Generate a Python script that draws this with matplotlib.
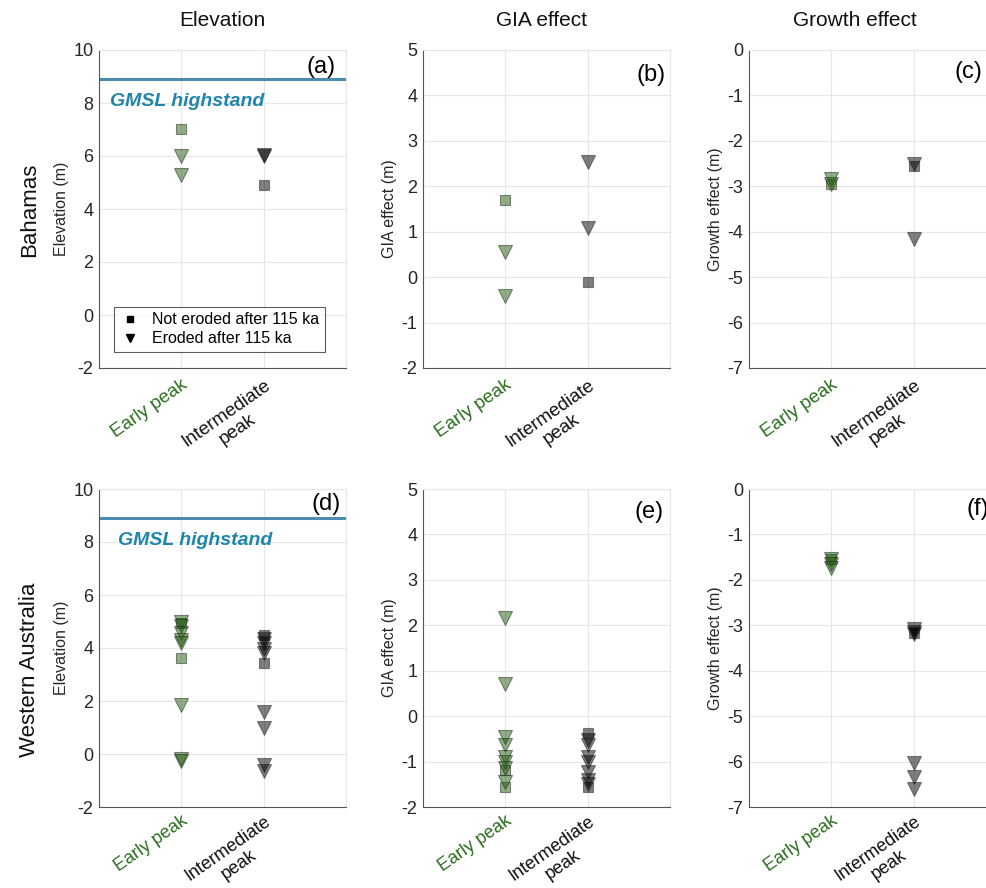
import numpy as np
import matplotlib
matplotlib.use("Agg")
import matplotlib.pyplot as plt
from matplotlib.lines import Line2D

plt.rcParams['font.family'] = ['Liberation Sans', 'DejaVu Sans']
plt.rcParams['axes.unicode_minus'] = False

# categories on the x axis
cats = ["Early peak", "Intermediate\npeak"]
cat_x = [1, 2]
cat_colors = ["#2a6e1e", "#111111"]

# marker fill per category (green for early, black for intermediate), drawn translucent
fills = ["#1f5f0a", "#000000"]

# Bahamas ------------------------------------------------------------
bah_elev_sq = [[7.0], [4.9]]
bah_elev_tri = [[6.0, 5.3], [6.05, 6.0]]
bah_gia_sq = [[1.7], [-0.1]]
bah_gia_tri = [[0.55, -0.42], [2.53, 1.09]]
bah_grow_sq = [[-2.95], [-2.55]]
bah_grow_tri = [[-2.85, -2.95], [-2.5, -4.17]]

# Western Australia --------------------------------------------------
wa_elev_sq = [[4.95, 3.62], [4.5, 3.44]]
wa_elev_tri = [[4.98, 4.83, 4.58, 4.32, 4.2, 1.86, -0.2, -0.27],
               [4.35, 4.2, 3.95, 3.8, 1.6, 0.98, -0.42, -0.66]]
wa_gia_sq = [[-1.18, -1.55], [-0.38, -1.55]]
wa_gia_tri = [[2.15, 0.71, -0.45, -0.63, -0.9, -1.0, -1.15, -1.45],
              [-0.52, -0.63, -0.9, -1.0, -1.22, -1.4, -1.5]]
wa_grow_sq = [[-1.55], [-3.17]]
wa_grow_tri = [[-1.55, -1.66, -1.73], [-3.08, -3.15, -3.2, -6.03, -6.33, -6.6]]

gmsl = 8.9

panels = [
    [(bah_elev_sq, bah_elev_tri, "Elevation (m)", (-2, 10), "(a)"),
     (bah_gia_sq, bah_gia_tri, "GIA effect (m)", (-2, 5), "(b)"),
     (bah_grow_sq, bah_grow_tri, "Growth effect (m)", (-7, 0), "(c)")],
    [(wa_elev_sq, wa_elev_tri, "Elevation (m)", (-2, 10), "(d)"),
     (wa_gia_sq, wa_gia_tri, "GIA effect (m)", (-2, 5), "(e)"),
     (wa_grow_sq, wa_grow_tri, "Growth effect (m)", (-7, 0), "(f)")],
]

lefts = [99 / 986, 423 / 986, 749 / 986]
bottoms = [1 - 368 / 888, 1 - 807 / 888]
w = 247 / 986
h = 318 / 888
label_pos = [[(0.84, 0.947), (0.866, 0.92), (0.834, 0.93)],
             [(0.862, 0.953), (0.858, 0.927), (0.88, 0.937)]]

fig = plt.figure(figsize=(9.86, 8.88), dpi=100)

for r, row in enumerate(panels):
    for c, (sq, tri, ylab, ylim, tag) in enumerate(row):
        ax = fig.add_axes([lefts[c], bottoms[r], w, h])
        for i in range(2):
            ax.plot([cat_x[i]] * len(sq[i]), sq[i], ls="none", marker="s", ms=7.5,
                    mfc=fills[i], mec="#222222", mew=0.8, alpha=0.5)
            ax.plot([cat_x[i]] * len(tri[i]), tri[i], ls="none", marker="v", ms=9.5,
                    mfc=fills[i], mec="#222222", mew=0.8, alpha=0.5)
        ax.set_xlim(0, 3)
        ax.set_ylim(*ylim)
        ax.set_xticks([0, 1, 2, 3])
        ax.set_xticklabels(["", cats[0], cats[1], ""])
        ax.set_yticks(np.arange(ylim[0], ylim[1] + 1, 2 if c == 0 else 1))
        ax.grid(True, color="#e6e6e6", lw=0.8)
        ax.set_axisbelow(True)
        for s in ["top", "right"]:
            ax.spines[s].set_color("#e6e6e6")
        for s in ["left", "bottom"]:
            ax.spines[s].set_color("#555555")
        ax.tick_params(axis="both", length=0, labelsize=13, colors="#262626", pad=4)
        ax.tick_params(axis="x", pad=6 if r == 0 else 4)
        for lbl, col in zip(ax.get_xticklabels()[1:3], cat_colors):
            lbl.set_rotation(35)
            lbl.set_ha("right")
            lbl.set_rotation_mode("anchor")
            lbl.set_multialignment("center")
            lbl.set_color(col)
            lbl.set_fontsize(13.5 if r == 0 else 13)
        ax.set_ylabel(ylab, fontsize=11.5, color="#262626", labelpad=3)
        ax.text(label_pos[r][c][0], label_pos[r][c][1], tag, transform=ax.transAxes,
                fontsize=17, ha="left", va="center", color="black", clip_on=False)
        if c == 0:
            ax.axhline(gmsl, color="#4d8ab0", lw=2.2)
            ax.text(0.13 if r == 0 else 0.23, 8.05, "GMSL highstand", color="#1f86ab",
                    fontsize=14, fontweight="bold", fontstyle="italic", va="center")
        if r == 0 and c == 0:
            handles = [Line2D([], [], ls="none", marker="s", ms=5, color="black"),
                       Line2D([], [], ls="none", marker="v", ms=6, color="black")]
            leg = ax.legend(handles, ["Not eroded after 115 ka", "Eroded after 115 ka"],
                            loc="lower left", bbox_to_anchor=(0.03, 0.025), fontsize=11.5,
                            frameon=True, fancybox=False, edgecolor="#333333",
                            handlelength=1.2, handletextpad=0.8, borderpad=0.35,
                            labelspacing=0.25)
            leg.get_frame().set_linewidth(0.8)

titles = ["Elevation", "GIA effect", "Growth effect"]
title_x = [222, 542, 855]
for t, x in zip(titles, title_x):
    fig.text(x / 986, 1 - 20 / 888, t, ha="center", va="center", fontsize=15,
             color="#111111")

fig.text(30 / 986, 1 - 210 / 888, "Bahamas", rotation=90, ha="center", va="center",
         fontsize=16, color="#111111")
fig.text(30 / 986, 1 - 670 / 888, "Western Australia", rotation=90, ha="center",
         va="center", fontsize=16, color="#111111")

fig.savefig("out.png", dpi=100)
